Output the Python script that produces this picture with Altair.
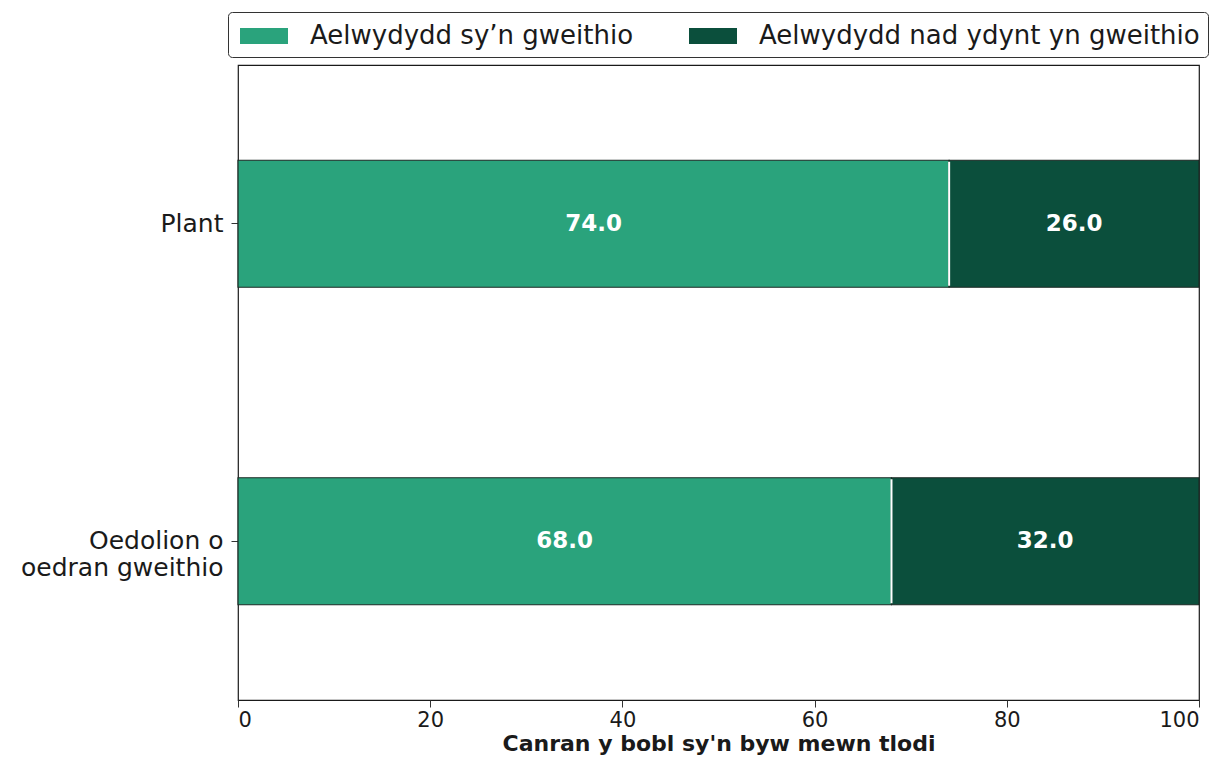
import altair as alt
import pandas as pd

categories = ["Plant", "Oedolion o oedran gweithio"]
series = ["Aelwydydd sy’n gweithio", "Aelwydydd nad ydynt yn gweithio"]
working = [74.0, 68.0]
not_working = [26.0, 32.0]
colors = ["#2aa37c", "#0b4f3c"]

rows = []
for i, c in enumerate(categories):
    rows.append({"cat": c, "series": series[0], "start": 0, "end": working[i], "val": working[i], "order": 0})
    rows.append({"cat": c, "series": series[1], "start": working[i], "end": working[i] + not_working[i], "val": not_working[i], "order": 1})
df = pd.DataFrame(rows)
df["mid"] = (df["start"] + df["end"]) / 2
df["label"] = df["val"].map(lambda v: f"{v:.1f}")

FONT = "DejaVu Sans"

y_enc = alt.Y("cat:N", sort=categories, title=None,
              scale=alt.Scale(paddingInner=0.6, paddingOuter=0.3),
              axis=alt.Axis(labelExpr="datum.value == 'Oedolion o oedran gweithio' ? ['Oedolion o', 'oedran gweithio'] : datum.value",
                            labelFontSize=25, labelColor="#1a1a1a", labelFont=FONT, labelLimit=400,
                            tickColor="#333", tickSize=7, domain=False, labelPadding=8, labelLineHeight=27))

bars = alt.Chart(df).mark_bar(stroke="#1c2a25", strokeWidth=1.2).encode(
    x=alt.X("start:Q", scale=alt.Scale(domain=[0, 100], nice=False),
            title="Canran y bobl sy'n byw mewn tlodi",
            axis=alt.Axis(values=[0, 20, 40, 60, 80, 100], grid=False, labelFontSize=21,
                          labelFont=FONT, labelColor="#1a1a1a", titleFont=FONT,
                          titleFontSize=22, titleFontWeight="bold", titleColor="#1a1a1a",
                          tickColor="#333", tickSize=7, domain=False, titlePadding=3,
                          labelPadding=2)),
    x2="end:Q",
    y=y_enc,
    color=alt.Color("series:N", sort=series,
                    scale=alt.Scale(domain=series, range=colors),
                    legend=alt.Legend(title=None, orient="none", direction="horizontal",
                                      legendX=-10, legendY=-53,
                                      symbolType="M-0.75,-0.5H2.25V0.5H-0.75Z", symbolSize=1024,
                                      symbolStrokeWidth=0,
                                      labelFontSize=26, labelFont=FONT, labelColor="#1a1a1a",
                                      columnPadding=51, padding=8, labelOffset=42,
                                      strokeColor="#333", cornerRadius=4, fillColor="white",
                                      labelLimit=600)),
)

sep = alt.Chart(df[df["order"] == 0]).mark_tick(color="white", thickness=2, orient="vertical",
                                                 size=124, opacity=1).encode(
    x="end:Q",
    y=alt.Y("cat:N", sort=categories),
)

text = alt.Chart(df).mark_text(color="white", fontSize=23, fontWeight="bold", font=FONT).encode(
    x="mid:Q",
    y=alt.Y("cat:N", sort=categories),
    text="label:N",
)

chart = alt.layer(bars, sep, text).properties(
    width=961, height=635,
    padding={"left": 230, "top": 57, "right": 20, "bottom": 70},
    autosize=alt.AutoSizeParams(type="none"),
).configure_view(stroke="#1a1a1a", strokeWidth=1.2)

chart.save("out.html", embed_options={"renderer": "svg", "actions": False})
